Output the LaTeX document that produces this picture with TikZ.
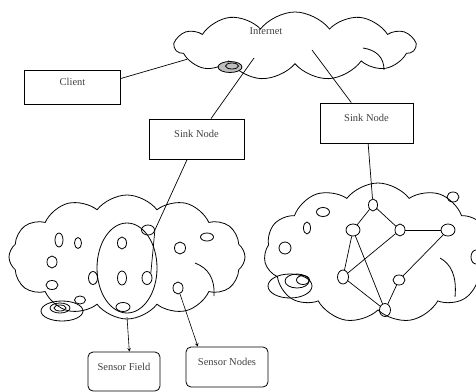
\documentclass[tikz,border=0pt]{standalone}
\usepackage{fontspec}
\setmainfont{Liberation Serif}
\usetikzlibrary{shapes.geometric,shapes.symbols}

\begin{document}
\begin{tikzpicture}[x=1pt, y=-1pt, line width=0.8pt,
    lbl/.style={text=black!75, font=\fontsize{10.5}{12}\selectfont, text height=7pt, text depth=10pt, inner sep=0pt},
    box/.style={draw, rectangle, lbl},
    tag/.style={box, rounded corners=5pt},
    puff/.style={draw, cloud, cloud ignores aspect, cloud puff arc=105, inner sep=0pt},
    sn/.style={draw, ellipse, inner sep=0pt},
    link/.style={line width=0.7pt},
    pointer/.style={->, >=stealth, line width=0.6pt}]
			%%%%% FRAME %%%%%
			\useasboundingbox (0,0) rectangle (476,391);
			
			%%%%% CLOUDS %%%%%
			\node[puff, cloud puffs=11, minimum width=240pt, minimum height=68pt] (inet) at (295,46) {};
			\node[lbl] (inettext) at (266,36) {Internet};
			\node[sn, fill=black!25, minimum width=24pt, minimum height=11pt] (iloop) at (230,67) {};
			\node[sn, minimum width=13pt, minimum height=6pt] (iloopin) at (232,66) {};
			\draw (363,48) .. controls (376,50) and (384,57) .. (384,70);
			
			\node[puff, cloud puffs=12, minimum width=236pt, minimum height=124pt] (lcloud) at (127,257) {};
			\node[sn, minimum width=60pt, minimum height=90pt] (ring) at (127,268) {};
			\node[sn, minimum width=42pt, minimum height=20pt] (lloop) at (62,311) {};
			\node[sn, minimum width=20pt, minimum height=10pt] (lloopa) at (60,308) {};
			\node[sn, minimum width=12pt, minimum height=6pt] (lloopb) at (60,308) {};
			\draw (195,263) .. controls (208,268) and (215,278) .. (214,296);
			
			\node[puff, cloud puffs=11, minimum width=228pt, minimum height=140pt] (rcloud) at (378,253) {};
			\node[sn, minimum width=44pt, minimum height=24pt] (rloop) at (290,286) {};
			\node[sn, minimum width=24pt, minimum height=14pt] (rloopa) at (297,281) {};
			\node[sn, minimum width=13pt, minimum height=9pt] (rloopb) at (303,280) {};
			\draw (440,258) .. controls (451,264) and (457,276) .. (455,297);
			
			%%%%% BOXES %%%%%
			\node[box, minimum width=96pt, minimum height=34pt] (client) at (72.5,87) {Client};
			\node[box, minimum width=95pt, minimum height=40pt] (sinkA) at (196.5,139) {Sink Node};
			\node[box, minimum width=93pt, minimum height=40pt] (sinkB) at (366.5,123) {Sink Node};
			\node[tag, minimum width=72pt, minimum height=39pt] (field) at (124,371.5) {Sensor Field};
			\node[tag, minimum width=82pt, minimum height=40pt] (nodesbox) at (227,367) {Sensor Nodes};
			
			%%%%% LEFT FIELD %%%%%
			\node[sn, minimum width=8pt, minimum height=14pt] (la) at (59,240) {};
			\node[sn, minimum width=7pt, minimum height=11pt] (lb) at (78,243) {};
			\node[sn, minimum width=10pt, minimum height=12pt] (lc) at (52,262) {};
			\node[sn, minimum width=12pt, minimum height=9pt] (ld) at (52,285) {};
			\node[sn, minimum width=11pt, minimum height=8pt] (le) at (80,300) {};
			\node[sn, minimum width=13pt, minimum height=10pt] (fa) at (148,230) {};
			\node[sn, minimum width=10pt, minimum height=13pt] (fb) at (147,278) {};
			\node[sn, minimum width=9pt, minimum height=12pt] (fc) at (122,243) {};
			\node[sn, minimum width=9pt, minimum height=13pt] (fd) at (93,278) {};
			\node[sn, minimum width=9pt, minimum height=14pt] (fe) at (122,278) {};
			\node[sn, minimum width=14pt, minimum height=9pt] (ff) at (123,307) {};
			\node[sn, minimum width=11pt, minimum height=12pt] (fg) at (180,248) {};
			\node[sn, minimum width=13pt, minimum height=8pt] (fh) at (207,237) {};
			\node[sn, minimum width=10pt, minimum height=12pt] (fn) at (178,288) {};
			\coordinate (lbottom) at (127,317);
			
			%%%%% RIGHT FIELD %%%%%
			\node[sn, minimum width=13pt, minimum height=9pt] (ra) at (323,212) {};
			\node[sn, minimum width=7pt, minimum height=12pt] (rb) at (307,228) {};
			\node[sn, minimum width=12pt, minimum height=12pt] (rc) at (285,248) {};
			\node[sn, minimum width=12pt, minimum height=10pt] (rd) at (453,197) {};
			\node[sn, minimum width=10pt, minimum height=14pt] (re) at (476,257) {};
			\node[sn, minimum width=9pt, minimum height=12pt] (ga) at (373,205) {};
			\node[sn, minimum width=14pt, minimum height=12pt] (gb) at (353,230) {};
			\node[sn, minimum width=10pt, minimum height=12pt] (gc) at (400,230) {};
			\node[sn, minimum width=14pt, minimum height=12pt] (gd) at (448,230) {};
			\node[sn, minimum width=11pt, minimum height=14pt] (ge) at (343,277) {};
			\node[sn, minimum width=12pt, minimum height=10pt] (gf) at (399,280) {};
			\node[sn, minimum width=11pt, minimum height=13pt] (gg) at (385,310) {};
			
			\draw[link] (ga) -- (gb);
			\draw[link] (ga) -- (gc);
			\draw[link] (gb) -- (ge);
			\draw[link] (gb) -- (gg);
			\draw[link] (ge) -- (gc);
			\draw[link] (gc) -- (gd);
			\draw[link] (gd) -- (gf);
			\draw[link] (ge) -- (gg);
			\draw[link] (gf) -- (gg);
			
			%%%%% LINKS %%%%%
			\coordinate (inetL) at (254,58);
			\coordinate (inetR) at (312,50);
			\draw[link] (client.10) -- (inet.187);
			\draw[link] (inetL) -- (sinkA);
			\draw[link] (inetR) -- (sinkB);
			\draw[link] (sinkA) -- (fa.east);
			\draw[link] (fa.east) -- (fb.north east);
			\draw[link] (sinkB) -- (ga);
			
			\draw[pointer] (lbottom) -- (field.75);
			\draw[pointer] (fn) -- (nodesbox.145);
			
			%%%%% END %%%%%
\end{tikzpicture}
\end{document}
